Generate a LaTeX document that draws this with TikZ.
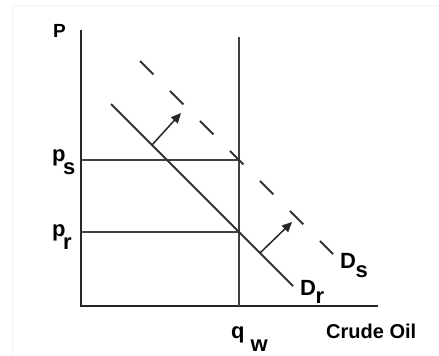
\documentclass[tikz,border=0pt]{standalone}
\usepackage{fontspec}
\setmainfont{Liberation Sans}
\usetikzlibrary{arrows.meta}
\newcommand{\lo}[2]{\raisebox{-#1}{#2}}

\begin{document}
\begin{tikzpicture}[x=1pt,y=-1pt,
axis/.style={draw=black!85,line width=2.6pt},
guide/.style={draw=black!75,line width=1.8pt},
demand/.style={draw=black!80,line width=1.8pt},
newdemand/.style={demand,dash pattern=on 19pt off 23.4pt},
shiftarr/.style={-{Triangle[length=10pt,width=9pt]},draw=black!85,line width=1.5pt},
lbl/.style={inner sep=0pt,anchor=base west,font=\fontsize{22}{22}\selectfont\bfseries}]
\useasboundingbox (0,0) rectangle (439,356);
\draw[black!5,line width=0.6pt] (12,356) -- (12,5) -- (439,5);
% axes
\coordinate (ytop) at (81,30);
\coordinate (orig) at (81,306);
\coordinate (xend) at (378,306);
\draw[axis] (ytop) -- (orig) -- (xend);
% world quantity and prices
\coordinate (qtop) at (239,37);
\coordinate (qbot) at (239,306);
\coordinate (ps) at (81,160);
\coordinate (psq) at (239,160);
\coordinate (pr) at (81,232);
\coordinate (prq) at (239,232);
\draw[guide] (qtop) -- (qbot);
\draw[guide] (ps) -- (psq);
\draw[guide] (pr) -- (prq);
% demand curves
\coordinate (dr1) at (111,104);
\coordinate (dr2) at (293,286);
\coordinate (ds1) at (140,61);
\coordinate (ds2) at (333,254);
\draw[demand] (dr1) -- (dr2);
\draw[newdemand] (ds1) -- (ds2);
% shift
\coordinate (up1) at (152,145);
\coordinate (up1t) at (181,113);
\coordinate (up2) at (260,253);
\coordinate (up2t) at (292,222);
\draw[shiftarr] (up1) -- (up1t);
\draw[shiftarr] (up2) -- (up2t);
% labels
\node[lbl,font=\fontsize{19}{19}\selectfont\bfseries] (plbl) at (53,37) {P};
\node[lbl] (pslbl) at (52,161) {p\kern-2.5pt\lo{13pt}{s}};
\node[lbl] (prlbl) at (52,236) {p\kern-2.5pt\lo{13pt}{r}};
\node[lbl] (qwlbl) at (231,338) {q\kern6pt\lo{13pt}{w}};
\node[lbl] (dslbl) at (340,268) {D\kern-0.5pt\lo{9pt}{s}};
\node[lbl] (drlbl) at (300,295) {D\kern-0.5pt\lo{8pt}{r}};
\node[lbl,font=\fontsize{20}{20}\selectfont\bfseries] (xlbl) at (326,338) {Crude Oil};
\end{tikzpicture}
\end{document}
